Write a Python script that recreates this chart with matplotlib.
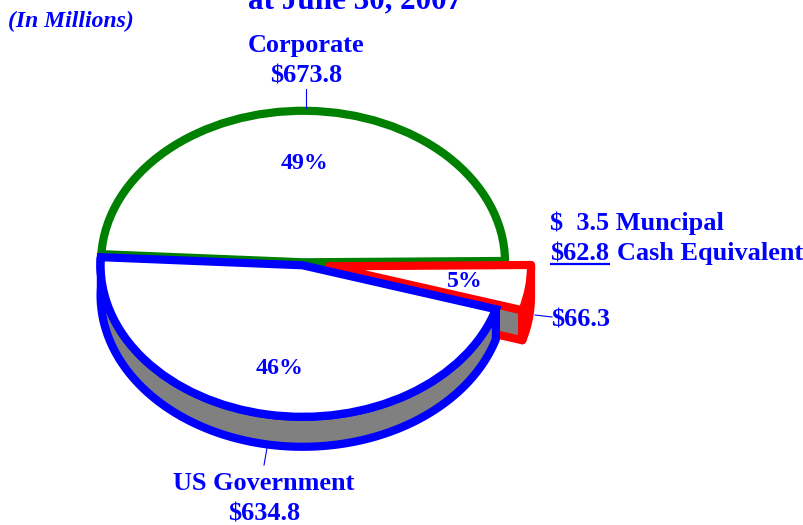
import numpy as np
import matplotlib
matplotlib.use("Agg")
import matplotlib.pyplot as plt
from matplotlib.patches import Polygon

plt.rcParams['font.family'] = ['Liberation Serif']

slices = ["Corporate", "US Government", "Cash and Municipal"]
amounts = [673.8, 634.8, 66.3]
shares = ["49%", "46%", "5%"]
edge_colors = ["green", "blue", "red"]
explode = [0.008, 0.012, 0.13]

BLUE = "#0000ff"
W, H = 804, 525
CX, CY, RX, RY, DEPTH, START = 303, 263.5, 202, 151.5, 30, 0.5
LW = 5.9

fig = plt.figure(figsize=(W / 100, H / 100), dpi=100)
ax = fig.add_axes([0, 0, 1, 1])
wedges, _ = ax.pie(amounts, explode=explode, startangle=START, counterclock=True,
                   radius=1.0, wedgeprops=dict(facecolor="white", linewidth=LW))
ax.set_aspect("auto")
ax.set_xlim(-CX / RX, (W - CX) / RX)
ax.set_ylim(-(H - CY) / RY, CY / RY)
ax.patch.set_visible(False)
depth = DEPTH / RY


def arc(w, a, b):
    t = np.radians(np.linspace(a, b, 120))
    cx, cy = w.center
    return np.column_stack([cx + w.r * np.cos(t), cy + w.r * np.sin(t)])


def side(w, a, b, color, z):
    top = arc(w, a, b)
    low = (top - [0, depth])[::-1]
    ax.add_patch(Polygon(np.vstack([top, low]), closed=True, facecolor="#808080",
                         edgecolor=color, linewidth=LW, joinstyle="round", zorder=z))


corp, gov, cash = wedges
corp.set_edgecolor(edge_colors[0]); corp.set_zorder(2); corp.set_joinstyle("miter")

# cash slice: wall on its lower cut edge and outer rim
cx, cy = cash.center
p = arc(cash, cash.theta1, cash.theta1)[0]
ax.add_patch(Polygon([[cx, cy], p, p - [0, depth], [cx, cy - depth]], closed=True,
                     facecolor="#808080", edgecolor=edge_colors[2], linewidth=LW,
                     joinstyle="round", zorder=3))
side(cash, cash.theta1, 360 + START, edge_colors[2], 3)
cash.set_edgecolor(edge_colors[2]); cash.set_zorder(4); cash.set_joinstyle("round")

# government slice
side(gov, gov.theta1, gov.theta2, edge_colors[1], 5)
gov.set_edgecolor(edge_colors[1]); gov.set_zorder(6); gov.set_joinstyle("miter")

# overlay in pixel coordinates for annotation text
ov = fig.add_axes([0, 0, 1, 1], zorder=10)
ov.set_xlim(0, W); ov.set_ylim(H, 0); ov.axis("off"); ov.patch.set_visible(False)


def label(x, y, s, size=18.9, ha="center", style="normal"):
    ov.text(x, y, s, color=BLUE, fontsize=size, fontweight="bold", ha=ha, va="baseline",
            fontstyle=style, clip_on=False)


label(355, 8, "at June 30, 2007", size=22.4)
label(8, 27, "(In Millions)", size=17, ha="left", style="italic")
label(306, 52, slices[0])
label(306, 83, r"\$" + f"{amounts[0]:.1f}")
label(264, 490, slices[1])
label(264, 521, r"\$" + f"{amounts[1]:.1f}")
label(305, 169, shares[0], size=17.2)
label(280, 374, shares[1], size=17.2)
label(464.5, 287, shares[2], size=17.2)
label(550, 230, r"\$  3.5 Muncipal", ha="left")
label(550, 260, r"\$62.8", ha="left")
label(617, 260, "Cash Equivalent", ha="left")
label(551, 327, r"\$" + f"{amounts[2]:.1f}", ha="left")
ov.plot([550, 610], [264, 264], color=BLUE, lw=1.6, solid_capstyle="butt")
for xs, ys in [([306, 306], [89, 108]), ([267, 264], [448, 465]), ([535, 552], [315, 317])]:
    ov.plot(xs, ys, color=BLUE, lw=0.8)

fig.savefig("out.png", dpi=100, facecolor="white")
